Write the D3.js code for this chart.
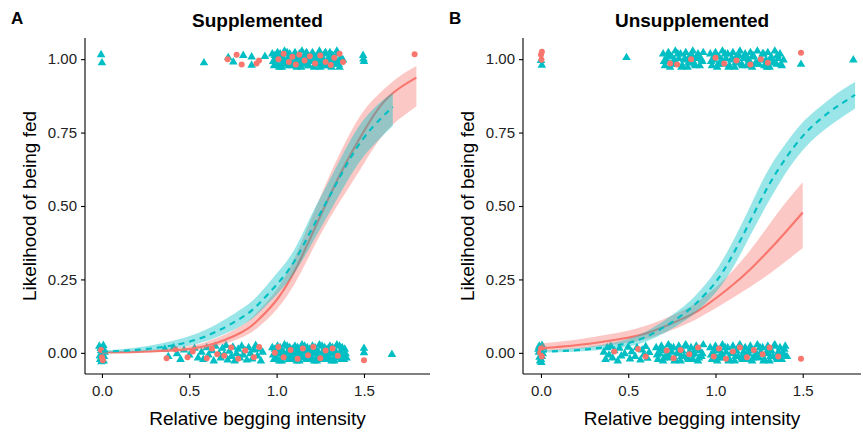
<!DOCTYPE html>
<html lang="en">
<head>
<meta charset="utf-8">
<script src="https://d3js.org/d3.v7.min.js"></script>
<style>
  body { margin: 0; background: #fff; }
  text { font-family: "Liberation Sans", Arial, Helvetica, sans-serif; }
</style>
</head>
<body>
<script>
    // colours used by both panels (ggplot defaults)
    var red = "#F8766D", cyan = "#00BFC4";

    var xTicks = [0, 0.5, 1.0, 1.5];
    var yTicks = [0, 0.25, 0.5, 0.75, 1.0];

    // ---- Panel A : Supplemented ----
    // fitted curves with confidence limits
    var suppRedX   = [0, 0.2, 0.4, 0.6, 0.8, 0.9, 1.0, 1.1, 1.2, 1.3, 1.4, 1.5, 1.6, 1.7, 1.8];
    var suppRedFit = [0.001, 0.003, 0.008, 0.024, 0.07, 0.115, 0.18, 0.275, 0.40, 0.53, 0.65, 0.755, 0.845, 0.90, 0.937];
    var suppRedLo  = [0.0, 0.001, 0.004, 0.015, 0.052, 0.09, 0.148, 0.232, 0.345, 0.455, 0.55, 0.645, 0.735, 0.795, 0.84];
    var suppRedHi  = [0.004, 0.008, 0.016, 0.038, 0.093, 0.145, 0.215, 0.32, 0.46, 0.6, 0.725, 0.825, 0.89, 0.94, 0.977];

    var suppCyanX   = [0, 0.2, 0.4, 0.6, 0.8, 0.9, 1.0, 1.1, 1.2, 1.3, 1.4, 1.5, 1.6, 1.665];
    var suppCyanFit = [0.004, 0.01, 0.025, 0.058, 0.12, 0.168, 0.232, 0.31, 0.42, 0.53, 0.64, 0.733, 0.80, 0.837];
    var suppCyanLo  = [0.001, 0.005, 0.015, 0.04, 0.093, 0.137, 0.198, 0.27, 0.37, 0.475, 0.58, 0.67, 0.735, 0.772];
    var suppCyanHi  = [0.008, 0.018, 0.04, 0.08, 0.15, 0.2, 0.27, 0.35, 0.47, 0.585, 0.7, 0.795, 0.857, 0.886];

    // jittered observations [x, y]
    var suppRedPts = [
        [0.719,1.0],[0.771,1.015],[0.80,0.982],[0.885,0.985],[0.899,0.995],[1.01,1.0],[1.04,1.018],[1.07,0.99],
        [1.09,1.008],[1.11,0.982],[1.13,1.015],[1.16,0.995],[1.19,1.01],[1.22,0.985],[1.25,1.012],[1.28,0.99],
        [1.31,0.98],[1.33,1.005],[1.36,1.018],[1.38,0.99],[1.79,1.017],
        [0.0,-0.015],[-0.005,0.01],[0.005,-0.025],[0.37,-0.018],[0.42,0.012],[0.49,-0.015],[0.52,0.005],[0.6,-0.018],
        [0.63,0.015],[0.66,-0.005],[0.7,-0.01],[0.74,0.018],[0.78,-0.02],[0.82,0.008],[0.87,-0.015],[0.9,0.02],
        [0.99,0.0],[1.01,0.02],[1.04,-0.015],[1.08,0.01],[1.12,-0.02],[1.15,0.015],[1.18,-0.008],[1.21,0.02],
        [1.25,-0.018],[1.28,0.008],[1.32,0.015],[1.35,-0.01],[1.5,-0.025]
    ];
    var suppCyanPts = [
        // fed
        [-0.005,1.018],[0.0,0.99],[0.584,0.99],[0.723,1.008],[0.752,0.993],[0.809,1.015],[0.857,1.01],[0.857,0.982],
        [0.933,1.012],[1.495,1.015],[1.5,0.995],[1.497,1.003],
        [0.975,1.02],[0.985,0.98],[0.995,1.0],[1.005,1.025],[1.015,0.975],[1.025,1.01],[1.035,0.99],[1.045,1.03],[1.055,0.985],[1.065,1.005],
        [1.075,1.02],[1.085,0.98],[1.095,1.0],[1.105,1.025],[1.115,0.975],[1.125,1.01],[1.135,0.99],[1.145,1.03],[1.155,0.985],[1.165,1.005],
        [1.175,1.02],[1.185,0.98],[1.195,1.0],[1.205,1.025],[1.215,0.975],[1.225,1.01],[1.235,0.99],[1.245,1.03],[1.255,0.985],[1.265,1.005],
        [1.275,1.02],[1.285,0.98],[1.295,1.0],[1.305,1.025],[1.315,0.975],[1.325,1.01],[1.335,0.99],[1.345,1.03],[1.355,0.985],[1.365,1.005],
        [0.98,0.995],[0.99,1.015],[1.0,0.985],[1.01,1.0],[1.02,1.02],[1.03,0.975],[1.04,1.005],[1.05,0.99],[1.06,1.025],[1.07,0.98],
        [1.08,1.01],[1.09,0.995],[1.1,1.015],[1.11,0.985],[1.12,1.0],[1.13,1.02],[1.14,0.975],[1.15,1.005],[1.16,0.99],[1.17,1.025],
        [1.18,0.98],[1.19,1.01],[1.2,0.995],[1.21,1.015],[1.22,0.985],[1.23,1.0],[1.24,1.02],[1.25,0.975],[1.26,1.005],[1.27,0.99],
        [1.28,1.025],[1.29,0.98],[1.3,1.01],[1.31,0.995],[1.32,1.015],[1.33,0.985],[1.34,1.0],[1.35,1.02],[1.36,0.975],[1.37,1.005],[1.38,1.0],
        // not fed
        [-0.015,0.025],[-0.01,-0.02],[-0.005,0.01],[0.0,-0.005],[0.005,0.02],[0.01,-0.025],[0.015,0.005],[-0.012,-0.008],
        [0.008,0.028],[-0.003,-0.028],[0.012,-0.01],[-0.008,0.018],[0.002,0.0],
        [0.36,0.015],[0.38,-0.01],[0.41,0.02],[0.43,0.0],[0.45,-0.02],[0.47,0.012],[0.5,-0.005],[0.53,0.018],[0.55,-0.015],
        [0.57,0.005],[0.58,-0.02],[0.6,0.02],[0.61,-0.005],[0.63,0.01],[0.64,-0.025],[0.65,0.025],[0.67,0.0],[0.68,-0.015],
        [0.69,0.018],[0.7,-0.003],[0.71,0.028],[0.72,-0.022],[0.73,0.008],[0.74,-0.01],[0.75,0.022],[0.76,-0.025],[0.77,0.0],
        [0.78,0.015],[0.79,-0.015],[0.8,0.025],[0.81,-0.005],[0.82,0.01],[0.83,-0.022],[0.84,0.02],[0.85,0.0],[0.86,-0.018],
        [0.87,0.012],[0.88,0.028],[0.89,-0.008],[0.9,0.015],[0.91,-0.025],[0.92,0.005],
        [0.975,0.02],[0.985,-0.02],[0.995,0.0],[1.005,0.025],[1.015,-0.025],[1.025,0.01],[1.035,-0.01],[1.045,0.03],[1.055,-0.015],[1.065,0.005],
        [1.075,0.02],[1.085,-0.02],[1.095,0.0],[1.105,0.025],[1.115,-0.025],[1.125,0.01],[1.135,-0.01],[1.145,0.03],[1.155,-0.015],[1.165,0.005],
        [1.175,0.02],[1.185,-0.02],[1.195,0.0],[1.205,0.025],[1.215,-0.025],[1.225,0.01],[1.235,-0.01],[1.245,0.03],[1.255,-0.015],[1.265,0.005],
        [1.275,0.02],[1.285,-0.02],[1.295,0.0],[1.305,0.025],[1.315,-0.025],[1.325,0.01],[1.335,-0.01],[1.345,0.03],[1.355,-0.015],[1.365,0.005],
        [1.375,0.02],[1.385,-0.02],[1.395,0.0],
        [0.98,-0.005],[0.99,0.015],[1.0,-0.015],[1.01,0.0],[1.02,0.02],[1.03,-0.025],[1.04,0.005],[1.05,-0.01],[1.06,0.025],[1.07,-0.02],
        [1.08,-0.005],[1.09,0.015],[1.1,-0.015],[1.11,0.0],[1.12,0.02],[1.13,-0.025],[1.14,0.005],[1.15,-0.01],[1.16,0.025],[1.17,-0.02],
        [1.18,-0.005],[1.19,0.015],[1.2,-0.015],[1.21,0.0],[1.22,0.02],[1.23,-0.025],[1.24,0.005],[1.25,-0.01],[1.26,0.025],[1.27,-0.02],
        [1.28,-0.005],[1.29,0.015],[1.3,-0.015],[1.31,0.0],[1.32,0.02],[1.33,-0.025],[1.34,0.005],[1.35,-0.01],[1.36,0.025],[1.37,-0.02],
        [1.38,-0.005],[1.39,0.015],[1.40,-0.015],
        [1.5,0.018],[1.5,0.003],[1.66,-0.003]
    ];

    // ---- Panel B : Unsupplemented ----
    var unsRedX   = [0, 0.2, 0.4, 0.6, 0.8, 0.9, 1.0, 1.1, 1.2, 1.3, 1.4, 1.5];
    var unsRedFit = [0.016, 0.026, 0.042, 0.066, 0.113, 0.143, 0.185, 0.232, 0.285, 0.345, 0.41, 0.478];
    var unsRedLo  = [0.007, 0.014, 0.027, 0.047, 0.09, 0.118, 0.152, 0.188, 0.225, 0.265, 0.31, 0.357];
    var unsRedHi  = [0.032, 0.045, 0.064, 0.092, 0.141, 0.175, 0.222, 0.28, 0.35, 0.43, 0.51, 0.581];

    var unsCyanX   = [0, 0.2, 0.4, 0.6, 0.8, 0.9, 1.0, 1.1, 1.2, 1.3, 1.4, 1.5, 1.6, 1.7, 1.8];
    var unsCyanFit = [0.004, 0.009, 0.022, 0.054, 0.125, 0.175, 0.24, 0.335, 0.45, 0.565, 0.66, 0.738, 0.795, 0.84, 0.878];
    var unsCyanLo  = [0.001, 0.004, 0.013, 0.038, 0.1, 0.145, 0.205, 0.29, 0.4, 0.51, 0.61, 0.69, 0.748, 0.792, 0.832];
    var unsCyanHi  = [0.008, 0.016, 0.033, 0.072, 0.15, 0.205, 0.278, 0.38, 0.5, 0.62, 0.71, 0.785, 0.838, 0.885, 0.922];

    var unsRedPts = [
        [0.0,1.015],[0.005,1.025],[0.003,0.998],[0.74,0.985],[0.78,0.982],[0.86,1.0],[1.0,1.005],[1.05,0.985],[1.12,0.995],
        [1.2,0.982],[1.26,1.0],[1.3,0.988],[1.49,1.022],
        [0.0,0.015],[0.005,-0.012],[-0.005,0.0],[0.42,0.005],[0.556,0.013],[0.6,-0.012],[0.72,0.008],[0.76,-0.018],
        [0.8,0.01],[0.85,-0.005],[0.9,0.018],[0.99,-0.012],[1.02,0.015],[1.06,-0.02],[1.1,0.005],[1.14,0.018],
        [1.18,-0.015],[1.22,0.01],[1.27,-0.005],[1.31,0.018],[1.36,-0.012],[1.49,-0.02]
    ];
    var unsCyanPts = [
        // fed
        [0.0,0.998],[0.005,0.982],[0.49,1.008],[1.49,0.985],[1.79,1.0],
        [0.70,1.02],[0.71,0.98],[0.72,1.0],[0.73,1.025],[0.74,0.975],[0.75,1.01],[0.76,0.99],[0.77,1.03],[0.78,0.985],[0.79,1.005],
        [0.80,1.02],[0.81,0.98],[0.82,1.0],[0.83,1.025],[0.84,0.975],[0.85,1.01],[0.86,0.99],[0.87,1.03],[0.88,0.985],[0.89,1.005],
        [0.90,1.02],[0.91,0.98],[0.92,1.0],[0.93,1.025],
        [0.705,0.995],[0.725,1.015],[0.745,0.985],[0.765,1.0],[0.785,1.02],[0.805,0.975],[0.825,1.005],[0.845,0.99],[0.865,1.015],
        [0.885,0.98],[0.905,1.01],[0.925,0.995],
        [0.97,1.02],[0.98,0.98],[0.99,1.0],[1.0,1.025],[1.01,0.975],[1.02,1.01],[1.03,0.99],[1.04,1.03],[1.05,0.985],[1.06,1.005],
        [1.07,1.02],[1.08,0.98],[1.09,1.0],[1.1,1.025],[1.11,0.975],[1.12,1.01],[1.13,0.99],[1.14,1.03],[1.15,0.985],[1.16,1.005],
        [1.17,1.02],[1.18,0.98],[1.19,1.0],[1.2,1.025],[1.21,0.975],[1.22,1.01],[1.23,0.99],[1.24,1.03],[1.25,0.985],[1.26,1.005],
        [1.27,1.02],[1.28,0.98],[1.29,1.0],[1.3,1.025],[1.31,0.975],[1.32,1.01],[1.33,0.99],[1.34,1.03],[1.35,0.985],[1.36,1.005],
        [1.37,1.02],[1.38,0.98],[1.39,1.0],
        [0.975,0.995],[0.995,1.015],[1.015,0.985],[1.035,1.0],[1.055,1.02],[1.075,0.975],[1.095,1.005],[1.115,0.99],[1.135,1.015],
        [1.155,0.98],[1.175,1.01],[1.195,0.995],[1.215,1.015],[1.235,0.985],[1.255,1.0],[1.275,1.02],[1.295,0.975],[1.315,1.005],
        [1.335,0.99],[1.355,1.015],[1.375,0.985],
        // not fed
        [-0.01,0.025],[0.0,0.01],[0.005,-0.01],[-0.005,-0.025],[0.01,0.0],[0.0,-0.02],[-0.012,0.005],[0.012,0.02],
        [-0.008,-0.012],[0.006,0.028],[0.002,-0.03],[-0.015,0.015],
        [0.36,0.005],[0.37,-0.02],[0.38,0.02],[0.39,-0.005],[0.4,0.025],[0.41,-0.015],[0.42,0.01],[0.44,-0.025],[0.45,0.018],
        [0.46,-0.008],[0.48,0.0],[0.5,0.022],[0.51,-0.018],[0.52,0.006],[0.54,-0.01],[0.55,0.02],[0.57,-0.022],[0.58,0.012],
        [0.59,-0.004],[0.6,0.024],[0.61,-0.016],[0.62,0.004],
        [0.66,0.02],[0.67,-0.02],[0.68,0.0],[0.69,0.025],[0.70,-0.025],[0.71,0.01],[0.72,-0.01],[0.73,0.03],[0.74,-0.015],[0.75,0.005],
        [0.76,0.02],[0.77,-0.02],[0.78,0.0],[0.79,0.025],[0.80,-0.025],[0.81,0.01],[0.82,-0.01],[0.83,0.03],[0.84,-0.015],[0.85,0.005],
        [0.86,0.02],[0.87,-0.02],[0.88,0.0],[0.89,0.025],[0.90,-0.025],[0.91,0.01],[0.92,-0.01],[0.93,0.03],
        [0.665,-0.005],[0.685,0.015],[0.705,-0.015],[0.725,0.0],[0.745,0.02],[0.765,-0.025],[0.785,0.005],[0.805,-0.01],[0.825,0.025],
        [0.845,-0.02],[0.865,-0.005],[0.885,0.015],[0.905,-0.015],[0.925,0.0],
        [0.97,0.02],[0.98,-0.02],[0.99,0.0],[1.0,0.025],[1.01,-0.025],[1.02,0.01],[1.03,-0.01],[1.04,0.03],[1.05,-0.015],[1.06,0.005],
        [1.07,0.02],[1.08,-0.02],[1.09,0.0],[1.1,0.025],[1.11,-0.025],[1.12,0.01],[1.13,-0.01],[1.14,0.03],[1.15,-0.015],[1.16,0.005],
        [1.17,0.02],[1.18,-0.02],[1.19,0.0],[1.2,0.025],[1.21,-0.025],[1.22,0.01],[1.23,-0.01],[1.24,0.03],[1.25,-0.015],[1.26,0.005],
        [1.27,0.02],[1.28,-0.02],[1.29,0.0],[1.3,0.025],[1.31,-0.025],[1.32,0.01],[1.33,-0.01],[1.34,0.03],[1.35,-0.015],[1.36,0.005],
        [1.37,0.02],[1.38,-0.02],[1.39,0.0],[1.4,0.025],[1.41,-0.01],
        [0.975,-0.005],[0.995,0.015],[1.015,-0.015],[1.035,0.0],[1.055,0.02],[1.075,-0.025],[1.095,0.005],[1.115,-0.01],[1.135,0.025],
        [1.155,-0.02],[1.175,-0.005],[1.195,0.015],[1.215,-0.015],[1.235,0.0],[1.255,0.02],[1.275,-0.025],[1.295,0.005],[1.315,-0.01],
        [1.335,0.025],[1.355,-0.02],[1.375,-0.005],[1.395,0.015]
    ];

    var width = 863, height = 432;
    var svg = d3.select("body").append("svg")
        .attr("width", width)
        .attr("height", height);

    function zipFit(xs, fit, lo, hi) {
        return xs.map(function (x, i) { return { x: x, y: fit[i], lo: lo[i], hi: hi[i] }; });
    }

    function drawPanel(p) {
        var x = d3.scaleLinear().domain(p.xDomain).range([p.left, p.right]);
        var y = d3.scaleLinear().domain([-0.072, 1.072]).range([374, 38]);
        var g = svg.append("g");

        // points first (triangles, then circles), smooths on top
        var tri = d3.symbol().type(d3.symbolTriangle).size(32);
        g.selectAll(".pc").data(p.cyanPts).enter().append("path")
            .attr("d", tri)
            .attr("transform", function (d) { return "translate(" + x(d[0]) + "," + (y(d[1]) + 0.8) + ")"; })
            .attr("fill", cyan);
        g.selectAll(".pr").data(p.redPts).enter().append("circle")
            .attr("cx", function (d) { return x(d[0]); })
            .attr("cy", function (d) { return y(d[1]); })
            .attr("r", 3)
            .attr("fill", red);

        var area = d3.area().curve(d3.curveNatural)
            .x(function (d) { return x(d.x); })
            .y0(function (d) { return y(d.lo); })
            .y1(function (d) { return y(d.hi); });
        var line = d3.line().curve(d3.curveNatural)
            .x(function (d) { return x(d.x); })
            .y(function (d) { return y(d.y); });

        // red group: ribbon then line, then cyan group
        g.append("path").datum(p.redFit).attr("d", area)
            .attr("fill", red).attr("fill-opacity", 0.4);
        g.append("path").datum(p.redFit).attr("d", line)
            .attr("fill", "none").attr("stroke", red).attr("stroke-width", 2.1);
        g.append("path").datum(p.cyanFit).attr("d", area)
            .attr("fill", cyan).attr("fill-opacity", 0.4);
        g.append("path").datum(p.cyanFit).attr("d", line)
            .attr("fill", "none").attr("stroke", cyan).attr("stroke-width", 2.1)
            .attr("stroke-dasharray", "6,5");

        // axes
        var xAxis = g.append("g").attr("transform", "translate(0,374)")
            .call(d3.axisBottom(x).tickValues(xTicks).tickFormat(d3.format(".1f")).tickSizeOuter(0).tickSize(4));
        var yAxis = g.append("g").attr("transform", "translate(" + p.left + ",0)")
            .call(d3.axisLeft(y).tickValues(yTicks).tickFormat(d3.format(".2f")).tickSizeOuter(0).tickSize(4));
        [xAxis, yAxis].forEach(function (a) {
            a.select(".domain").attr("stroke", "#000").attr("stroke-width", 1.1);
            a.selectAll(".tick line").attr("stroke", "#000").attr("stroke-width", 1.1);
            a.selectAll(".tick text").attr("fill", "#222")
                .style("font-family", "'Liberation Sans', Arial, sans-serif")
                .style("font-size", "15px");
        });
        xAxis.selectAll(".tick text").attr("dy", "0.71em").attr("y", 11);
        yAxis.selectAll(".tick text").attr("x", -8);
        xAxis.select(".domain").attr("d", "M" + p.left + ",0H" + p.right);
        yAxis.select(".domain").attr("d", "M0,374V38");

        var cx = (p.left + p.right) / 2;
        g.append("text").attr("x", cx).attr("y", 27)
            .attr("text-anchor", "middle").style("font-size", "19px").style("font-weight", "bold")
            .text(p.title);
        g.append("text").attr("x", p.letterX).attr("y", 24)
            .style("font-size", "17px").style("font-weight", "bold")
            .text(p.letter);
        g.append("text").attr("x", cx).attr("y", 425)
            .attr("text-anchor", "middle").style("font-size", "19px")
            .text("Relative begging intensity");
        g.append("text")
            .attr("transform", "translate(" + (p.left - 49) + ",206) rotate(-90)")
            .attr("text-anchor", "middle").style("font-size", "19px")
            .text("Likelihood of being fed");
    }

    drawPanel({
        left: 85, right: 430, xDomain: [-0.097, 1.878],
        title: "Supplemented", letter: "A", letterX: 11,
        redPts: suppRedPts, cyanPts: suppCyanPts,
        redFit: zipFit(suppRedX, suppRedFit, suppRedLo, suppRedHi),
        cyanFit: zipFit(suppCyanX, suppCyanFit, suppCyanLo, suppCyanHi)
    });
    drawPanel({
        left: 523, right: 861, xDomain: [-0.103, 1.834],
        title: "Unsupplemented", letter: "B", letterX: 449,
        redPts: unsRedPts, cyanPts: unsCyanPts,
        redFit: zipFit(unsRedX, unsRedFit, unsRedLo, unsRedHi),
        cyanFit: zipFit(unsCyanX, unsCyanFit, unsCyanLo, unsCyanHi)
    });
</script>
</body>
</html>
